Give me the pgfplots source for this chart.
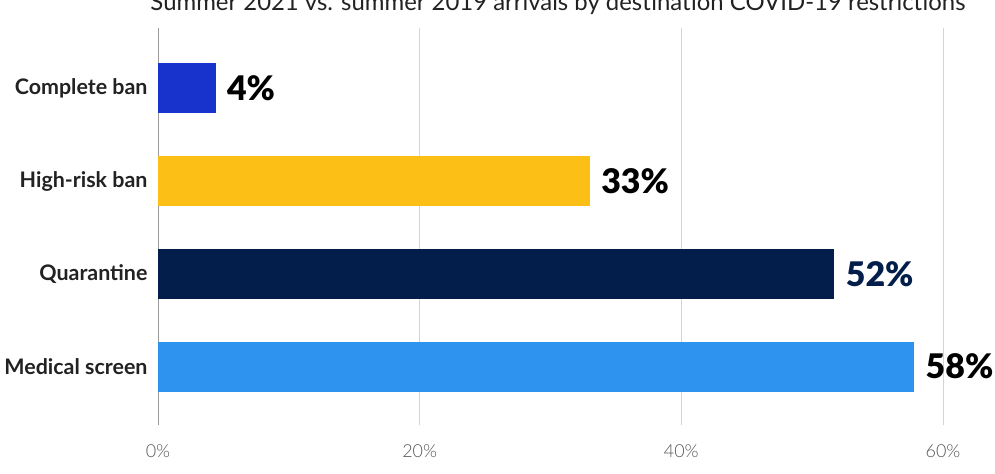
\documentclass[border=0pt]{standalone}
\usepackage{pgfplots}
\pgfplotsset{compat=1.18}
\usepackage{fontspec}
\setmainfont{Lato}
\newfontfamily\latoblack{Lato Black}
\newfontfamily\latolight{Lato Light}

\definecolor{cban}{HTML}{1733CC}
\definecolor{chigh}{HTML}{FBBF16}
\definecolor{cquar}{HTML}{031E4A}
\definecolor{cmed}{HTML}{2E93EE}
\definecolor{gridgray}{HTML}{D4D4D4}
\definecolor{zerogray}{HTML}{9A9A9A}
\definecolor{ticktext}{HTML}{555555}
\definecolor{cattext}{HTML}{222222}

\begin{document}
\begin{tikzpicture}
    \begin{axis}[name=ax,
        xbar, bar width=50bp, bar shift=0pt,
        width=785bp, height=397bp, scale only axis=true,
        xmin=0, xmax=60, ymin=-0.65, ymax=3.63, y dir=reverse,
        axis line style={draw=none},
        /pgf/number format/assume math mode=true,
        xtick={20,40,60}, xticklabels={20\%,40\%,60\%},
        extra x ticks={0}, extra x tick labels={0\%},
        extra x tick style={grid style={draw=zerogray, line width=0.8bp}},
        xmajorgrids=true, grid style={draw=gridgray, line width=0.8bp},
        major tick length=0,
        xticklabel style={font=\latolight\fontsize{18}{18}\selectfont, text=ticktext, yshift=-16bp},
        ytick={0,1,2,3},
        yticklabels={Complete ban, High-risk ban, Quarantine, Medical screen},
        yticklabel style={font=\bfseries\fontsize{21.5}{21.5}\selectfont, text=cattext, xshift=-7bp},
        point meta=x,
        nodes near coords={\pgfmathprintnumber[fixed,precision=0]{\pgfplotspointmeta}\%},
        nodes near coords style={anchor=west, xshift=8bp, font=\latoblack\fontsize{34}{34}\selectfont},
    ]
    \addplot[fill=cban, draw=none, nodes near coords style={text=black}] coordinates {(4.4,0)};
    \addplot[fill=chigh, draw=none, nodes near coords style={text=black}] coordinates {(33,1)};
    \addplot[fill=cquar, draw=none, nodes near coords style={text=cquar}] coordinates {(51.7,2)};
    \addplot[fill=cmed, draw=none, nodes near coords style={text=black}] coordinates {(57.8,3)};
    \end{axis}
    \pgfresetboundingbox
    \path[use as bounding box] ([xshift=-158bp,yshift=-49bp]ax.south west) rectangle ([xshift=52bp,yshift=28bp]ax.north east);
    \node[anchor=base, font=\fontsize{24}{24}\selectfont, text=cattext] at ([xshift=400bp,yshift=17bp]ax.north west) {Summer 2021 vs. summer 2019 arrivals by destination COVID-19 restrictions};
\end{tikzpicture}
\end{document}
